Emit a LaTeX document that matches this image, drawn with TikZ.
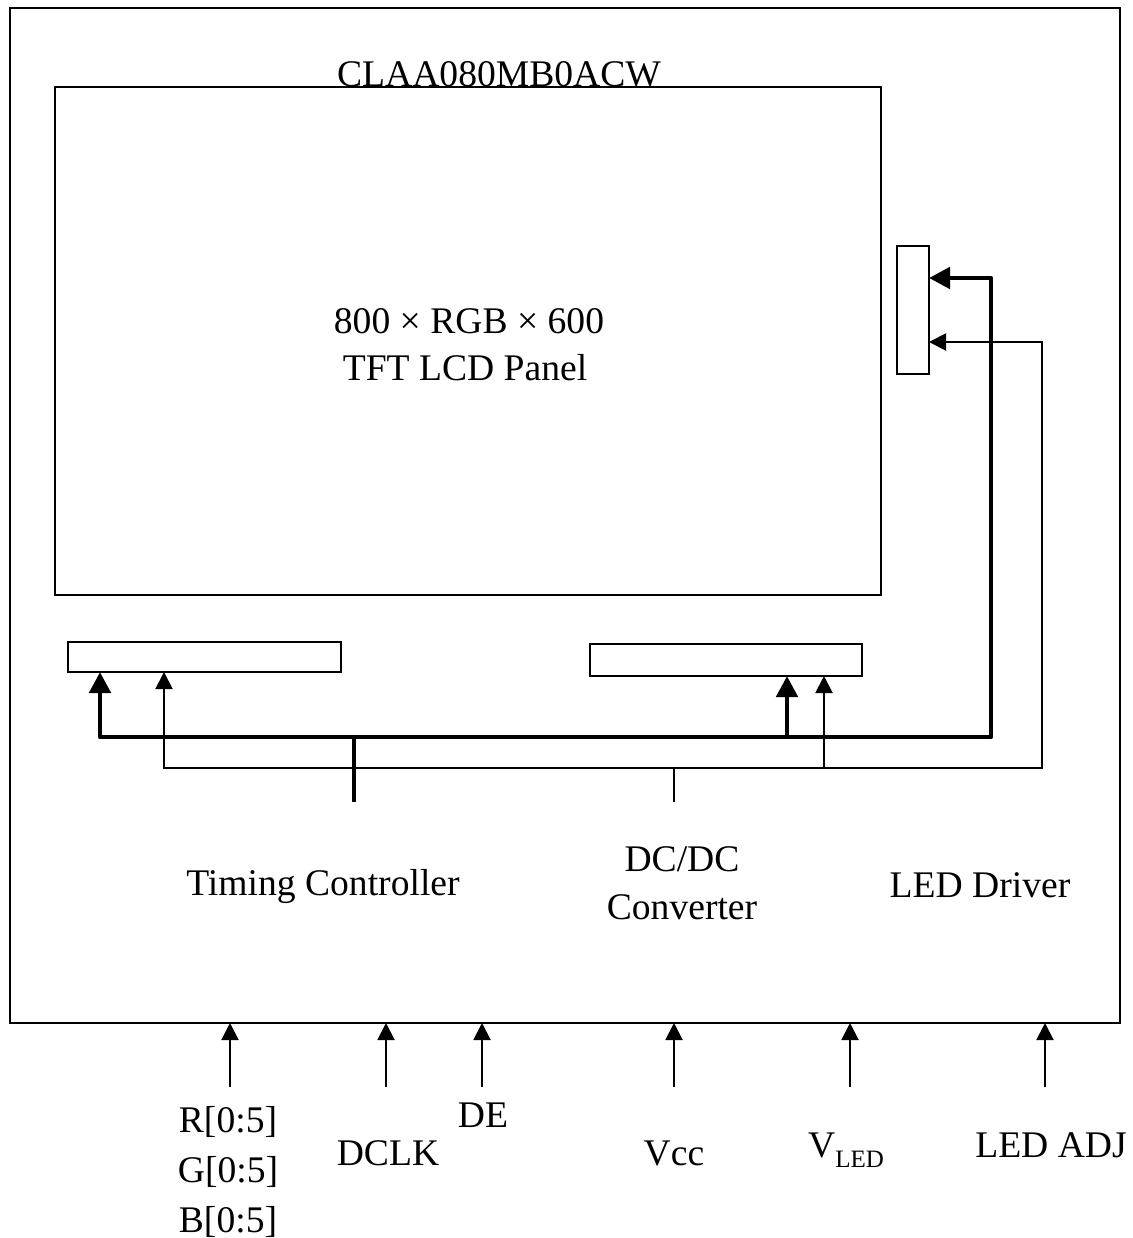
\documentclass[tikz,border=0pt]{standalone}
\usepackage{fontspec}
\setmainfont{Liberation Serif}
\usetikzlibrary{arrows.meta}

\begin{document}
\begin{tikzpicture}[
        x=0.5pt,
        y=-0.5pt,
        every node/.style={font=\fontsize{18.8}{25}\selectfont, inner sep=0pt},
        outline/.style={
            draw,
            line width=0.9pt,
            outer sep=0pt
        },
        heavy/.style={line width=2.4pt, line join=round},
        light/.style={line width=1pt},
        heavytip/.style={-{Triangle[length=10.5pt,width=10.5pt]}},
        lighttip/.style={-{Triangle[length=8.5pt,width=8.5pt]}}
    ]
        \useasboundingbox (0,0) rectangle (1133,1238);

        % Module outline and the glass
        \node[outline, line width=0.75pt, minimum width=555pt, minimum height=507.5pt]
            (frame) at (565,515.5) {};
        \node[outline, minimum width=413pt, minimum height=254pt]
            (panel) at (468,341) {};
        \node[anchor=base] (model) at (499,86) {CLAA080MB0ACW};
        \node[anchor=base] (res) at (469,333) {800 × RGB × 600};
        \node[anchor=base] (kind) at (465,380) {TFT LCD Panel};

        % Drivers on the glass
        \node[outline, minimum width=16pt, minimum height=64pt]
            (led) at (913,310) {};
        \node[outline, minimum width=136.5pt, minimum height=15pt]
            (srcL) at (204.5,657) {};
        \node[outline, minimum width=136pt, minimum height=16pt]
            (srcR) at (726,660) {};

        % Blocks on the board
        \node[anchor=base] (tcon) at (323,895) {Timing Controller};
        \node[anchor=base] (dcdc) at (682,871) {DC/DC};
        \node[anchor=base] (conv) at (682,919) {Converter};
        \node[anchor=base] (drv) at (980,897) {LED Driver};

        % Heavy bus: x=100 ... 991, y=737
        \coordinate (bL) at (100,737);
        \coordinate (bM) at (787,737);
        \coordinate (bR) at (991,737);
        \coordinate (bendA) at (991,278);
        \coordinate (tcJ) at (354,737);
        \coordinate (tcE) at (354,802);

        \draw[heavy, {Triangle[length=10.5pt,width=10.5pt]}-{Triangle[length=10.5pt,width=10.5pt]}]
            (bL |- srcL.south) -- (bL) -- (bR) -- (bendA) -- (led.east |- bendA);
        \draw[heavy, heavytip] (bM) -- (bM |- srcR.south);
        \draw[heavy] (tcE) -- (tcJ);

        % Light bus: x=164 ... 1042, y=768
        \coordinate (tL) at (164,768);
        \coordinate (tM) at (824,768);
        \coordinate (tR) at (1042,768);
        \coordinate (bendB) at (1042,342);
        \coordinate (cJ) at (674,768);
        \coordinate (cE) at (674,802);

        \draw[light, {Triangle[length=8.5pt,width=8.5pt]}-{Triangle[length=8.5pt,width=8.5pt]}]
            (tL |- srcL.south) -- (tL) -- (tR) -- (bendB) -- (led.east |- bendB);
        \draw[light, lighttip] (tM) -- (tM |- srcR.south);
        \draw[light] (cE) -- (cJ);

        % Interface pins
        \foreach \n/\x in {rgb/230,dclk/386,de/482,vcc/674,vled/850,adj/1045} {
            \coordinate (pin\n) at (\x,1087);
            \draw[light, lighttip] (pin\n) -- (pin\n |- frame.south);
        }

        \node[align=center] (rgbL) at (228,1172) {R[0:5]\\G[0:5]\\B[0:5]};
        \node[anchor=base] (dclkL) at (388,1165) {DCLK};
        \node[anchor=base] (deL) at (483,1127) {DE};
        \node[anchor=base] (vccL) at (674,1165) {Vcc};
        \node[anchor=base] (vledL) at (846,1157)
            {V\raisebox{-5pt}{\fontsize{12.5}{13}\selectfont LED}};
        \node[anchor=base] (adjL) at (1051,1157) {LED ADJ};
    \end{tikzpicture}
\end{document}
